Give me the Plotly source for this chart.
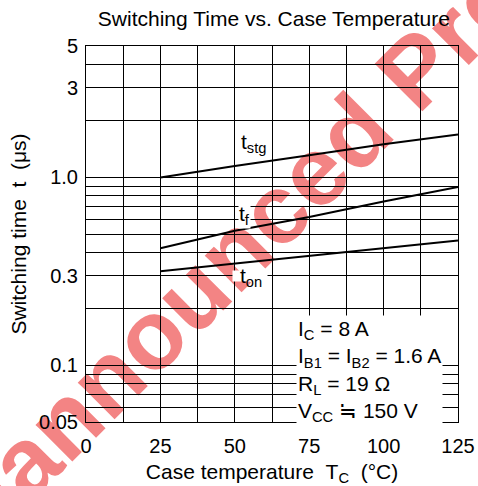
import numpy as np
import plotly.graph_objects as go

# ---- data ----
temperature = [25, 50, 75, 100, 125]
t_stg = [1.00, 1.15, 1.31, 1.50, 1.69]
t_f = [0.42, 0.52, 0.615, 0.745, 0.89]
t_on = [0.317, 0.348, 0.38, 0.418, 0.462]

x_tick_values = [0, 25, 50, 75, 100, 125]
x_tick_labels = ["0", "25", "50", "75", "100", "125"]
x_grid = [0, 12.5, 25, 37.5, 50, 62.5, 75, 87.5, 100, 112.5, 125]
y_tick_values = [0.05, 0.1, 0.3, 1.0, 3, 5]
y_tick_labels = ["0.05", "0.1", "0.3", "1.0", "3", "5"]
y_grid = [0.05, 0.06, 0.07, 0.08, 0.09, 0.1, 0.2, 0.3, 0.4, 0.5, 0.6, 0.7, 0.8, 0.9,
          1.0, 2, 3, 4, 5]

FONT = "Liberation Sans, Arial, sans-serif"
NB = "\u00a0"

fig = go.Figure()
for ys in (t_stg, t_f, t_on):
    fig.add_trace(go.Scatter(x=temperature, y=ys, mode="lines",
                             line=dict(color="black", width=2), showlegend=False,
                             hoverinfo="skip"))

# watermark (drawn below the grid)
fig.add_shape(type="rect", xref="paper", yref="paper",
              x0=0.514, x1=0.516, y0=0.602, y1=0.604,
              line=dict(width=0), fillcolor="rgba(0,0,0,0)", layer="below",
              label=dict(text="Unannounced Product", textangle=-45,
                         textposition="middle center",
                         font=dict(size=98, color="rgb(243,132,132)", family=FONT,
                                   weight="bold")))

lab_font = dict(size=21, color="black", family=FONT)
fig.add_annotation(x=51.5, y=np.log10(1.52), xref="x", yref="y", text="t<sub>stg</sub>",
                   showarrow=False, xanchor="left", yanchor="middle", font=lab_font)
fig.add_annotation(x=51.0, y=np.log10(0.632), xref="x", yref="y", text="t<sub>f</sub>",
                   showarrow=False, xanchor="left", yanchor="middle", font=lab_font,
                   bgcolor="white", borderpad=0)
# white gap in the 0.3 grid line behind the t_on label
fig.add_annotation(x=55.0, y=np.log10(0.3), xref="x", yref="y", text=" ",
                   showarrow=False, xanchor="center", yanchor="middle",
                   width=34, height=10, bgcolor="white", borderpad=0)
fig.add_annotation(x=51.0, y=np.log10(0.294), xref="x", yref="y", text="t<sub>on</sub>",
                   showarrow=False, xanchor="left", yanchor="middle", font=lab_font)
fig.add_annotation(x=70.5, y=-0.733, xref="x", yref="y",
                   text=("I<sub>C</sub> = 8 A<br>I<sub>B1</sub> = I<sub>B2</sub> = 1.6 A<br>"
                         "R<sub>L</sub> = 19 Ω<br>V<sub>CC</sub> ≒ 150 V"),
                   showarrow=False, xanchor="left", yanchor="top", align="left",
                   font=lab_font, bgcolor="white", borderpad=1)

grid = dict(showgrid=True, gridcolor="black", gridwidth=1)
fig.update_layout(
    width=478, height=486, autosize=False,
    margin=dict(l=86, r=20, t=46, b=64),
    paper_bgcolor="white", plot_bgcolor="rgba(0,0,0,0)",
    font=dict(family=FONT, color="black"),
    title=dict(text="Switching Time vs. Case Temperature", x=0.573, xanchor="center",
               y=1 - 19 / 486, yanchor="middle", font=dict(size=21, color="black")),
    xaxis=dict(range=[0, 125], tickmode="array", tickvals=x_tick_values,
               ticktext=x_tick_labels, showgrid=False,
               minor=dict(tickmode="array", tickvals=x_grid, ticks="", **grid),
               zeroline=False, automargin=False,
               showline=True, linecolor="black", linewidth=1, mirror=True, ticks="",
               ticklabelstandoff=6, tickfont=dict(size=20),
               title=dict(text=f"Case temperature{NB}{NB}T<sub>C</sub>{NB}{NB}(°C)",
                          font=dict(size=21), standoff=12)),
    yaxis=dict(type="log", range=[np.log10(0.05), np.log10(5)], tickmode="array",
               tickvals=y_tick_values, ticktext=y_tick_labels, showgrid=False,
               minor=dict(tickmode="array", tickvals=y_grid, ticks="", **grid),
               zeroline=False, automargin=False,
               showline=True, linecolor="black", linewidth=1, mirror=True, ticks="",
               ticklabelstandoff=3, tickfont=dict(size=20),
               title=dict(text=f"Switching time{NB}{NB}t{NB}{NB}(μs)",
                          font=dict(size=21), standoff=6)),
)

fig.write_html("out.html", config={"displayModeBar": False},
               post_script="document.body.style.margin='0px';")
